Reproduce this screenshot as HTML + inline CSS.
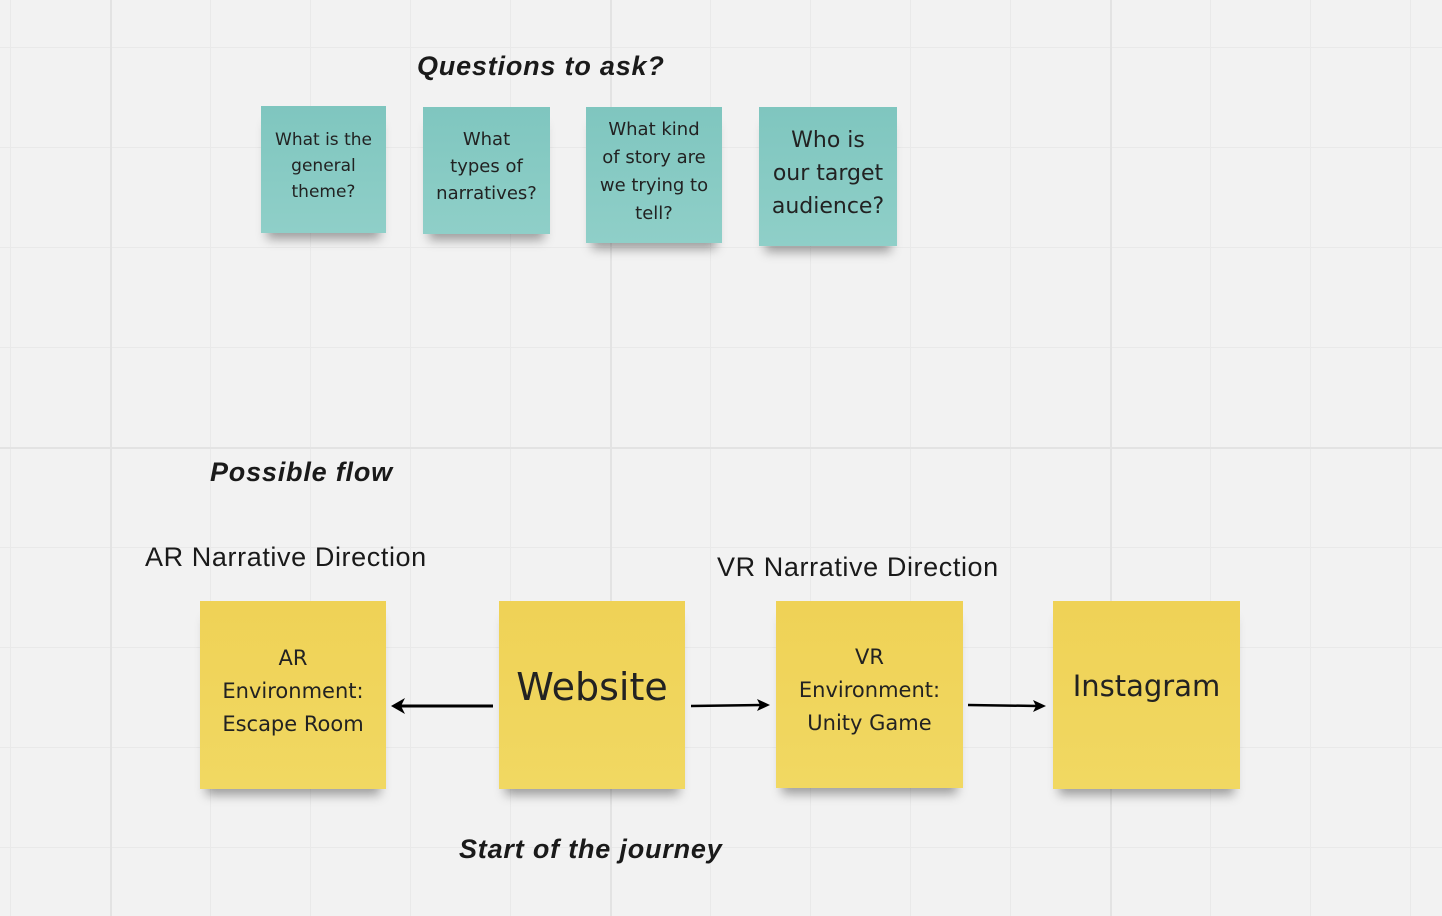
<!DOCTYPE html>
<html><head><meta charset="utf-8"><style>
html,body{margin:0;padding:0}
body{width:1442px;height:916px;position:relative;overflow:hidden;background:#f2f2f2;
background-image:
linear-gradient(to right,#e3e3e3 0,#e3e3e3 2px,transparent 2px),
linear-gradient(to bottom,#e3e3e3 0,#e3e3e3 2px,transparent 2px),
linear-gradient(to right,#e9e9e9 0,#e9e9e9 1px,transparent 1px),
linear-gradient(to bottom,#e9e9e9 0,#e9e9e9 1px,transparent 1px);
background-size:500px 500px,500px 500px,100px 100px,100px 100px;
background-position:110px 0,0 447px,10px 0,0 47px;
font-family:"Liberation Sans","DejaVu Sans",sans-serif;color:#1a1a1a}
.n{position:absolute;display:flex;align-items:center;justify-content:center;text-align:center;box-sizing:border-box;
font-family:"DejaVu Sans","Liberation Sans",sans-serif;color:#222;box-shadow:0 12px 10px -6px rgba(0,0,0,.35)}
.t{background:linear-gradient(to bottom,#7fc6bf,#8fcfc8)}
.y{background:linear-gradient(to bottom,#efd256,#f1d862)}
.h{position:absolute;font-weight:bold;font-style:italic;font-size:27px;letter-spacing:0.8px;white-space:nowrap}
.l{position:absolute;font-size:27px;letter-spacing:0.6px;white-space:nowrap}
</style></head><body>
<div class="h" style="left:417px;top:51px">Questions to ask?</div>
<div class="n t" style="left:261px;top:106px;width:125px;height:127px;font-size:17px;line-height:26px;padding-bottom:8px">What is the<br>general<br>theme?</div>
<div class="n t" style="left:423px;top:107px;width:127px;height:127px;font-size:18px;line-height:27px;padding-bottom:8px">What<br>types of<br>narratives?</div>
<div class="n t" style="left:586px;top:107px;width:136px;height:136px;font-size:18px;line-height:28px;padding-bottom:6px">What kind<br>of story are<br>we trying to<br>tell?</div>
<div class="n t" style="left:759px;top:107px;width:138px;height:139px;font-size:22px;line-height:33px;padding-bottom:6px">Who is<br>our target<br>audience?</div>

<div class="h" style="left:210px;top:457px">Possible flow</div>
<div class="l" style="left:145px;top:542px">AR Narrative Direction</div>
<div class="l" style="left:717px;top:552px">VR Narrative Direction</div>
<div class="h" style="left:459px;top:834px">Start of the journey</div>

<div class="n y" style="left:200px;top:601px;width:186px;height:188px;font-size:21px;line-height:33px;padding-bottom:8px">AR<br>Environment:<br>Escape Room</div>
<div class="n y" style="left:499px;top:601px;width:186px;height:188px;font-size:38px;align-items:flex-start;padding-top:64px">Website</div>
<div class="n y" style="left:776px;top:601px;width:187px;height:187px;font-size:21px;line-height:33px;padding-bottom:8px">VR<br>Environment:<br>Unity Game</div>
<div class="n y" style="left:1053px;top:601px;width:187px;height:188px;font-size:29px;align-items:flex-start;padding-top:68px">Instagram</div>

<svg style="position:absolute;left:0;top:0" width="1442" height="916">
<line x1="493" y1="706" x2="400" y2="706" stroke="#000" stroke-width="3"/>
<polygon points="391,706 405,698 401,706 405,714" fill="#000"/>
<line x1="691" y1="706" x2="762" y2="705" stroke="#000" stroke-width="2.5"/>
<polygon points="770,705 757,699 760,705 757,711" fill="#000"/>
<line x1="968" y1="705" x2="1038" y2="706" stroke="#000" stroke-width="2.5"/>
<polygon points="1046,706 1033,700 1036,706 1033,712" fill="#000"/>
</svg>
</body></html>
